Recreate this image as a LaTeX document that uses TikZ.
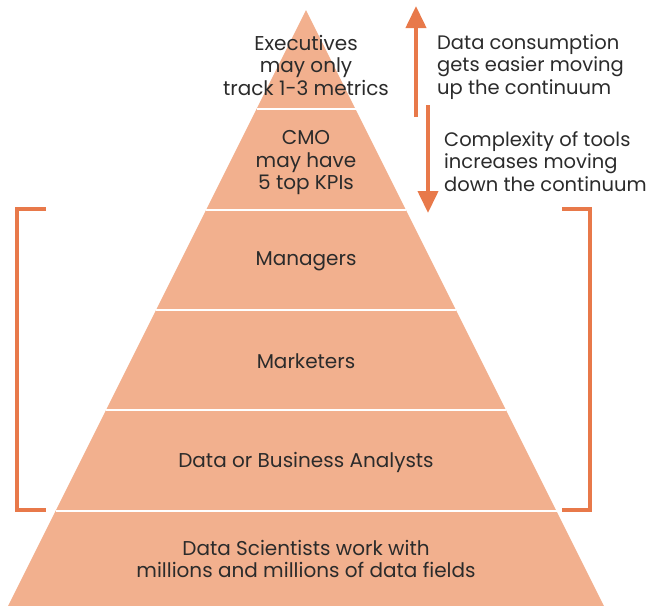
\documentclass[tikz,border=0pt]{standalone}
\usepackage{fontspec}
\setmainfont{Poppins}
\usetikzlibrary{positioning,arrows.meta}
\definecolor{tierfill}{HTML}{F2B08E}
\definecolor{accent}{HTML}{E8794A}
\definecolor{ink}{HTML}{2B2B2B}
\tikzstyle{tier} = [text=ink, align=center, inner sep=0pt, font=\fontsize{20}{22.5}\selectfont]
\tikzstyle{note} = [text=ink, align=left, anchor=north west, inner sep=0pt, font=\fontsize{19.5}{22.5}\selectfont]
\tikzstyle{arrow} = [accent, line width=4pt, -{Triangle[length=22pt,width=20pt]}]
\tikzstyle{bracket} = [accent, line width=4pt]

\begin{document}
\begin{tikzpicture}[x=1pt,y=-1pt]
			\useasboundingbox (0,0) rectangle (649,606);
			% pyramid and the white lines between the tiers
			\fill[tierfill] (306,10) -- (604,606) -- (8,606) -- cycle;
			\foreach \y in {109,210,310,410,511}
				\draw[white, line width=2pt] ({306-(\y-10)/2},\y) -- ({306+(\y-10)/2},\y);
			\node (exec) [tier] at (306,65) {Executives\\may only\\track 1-3 metrics};
			\node (cmo) [tier] at (306,163) {CMO\\may have\\5 top KPIs};
			\node (managers) [tier] at (306,261) {Managers};
			\node (marketers) [tier] at (306,361) {Marketers};
			\node (analysts) [tier] at (306,462) {Data or Business Analysts};
			\node (scientists) [tier] at (306,559) {Data Scientists work with\\millions and millions of data fields};
			% the two arrows on the right
			\coordinate (upfoot) at (416,117);
			\coordinate (uphead) at (416,6);
			\coordinate (downfoot) at (428,105);
			\coordinate (downhead) at (428,213);
			\draw[arrow] (upfoot) -- (uphead);
			\draw[arrow] (downfoot) -- (downhead);
			\node (upnote) [note] at (437,34) {Data consumption\\gets easier moving\\up the continuum};
			\node (downnote) [note] at (444,131) {Complexity of tools\\increases moving\\down the continuum};
			% brackets round the middle tiers
			\draw[bracket] (46,209) -- (17,209) -- (17,510) -- (46,510);
			\draw[bracket] (562,209) -- (590,209) -- (590,510) -- (562,510);
		\end{tikzpicture}
\end{document}
